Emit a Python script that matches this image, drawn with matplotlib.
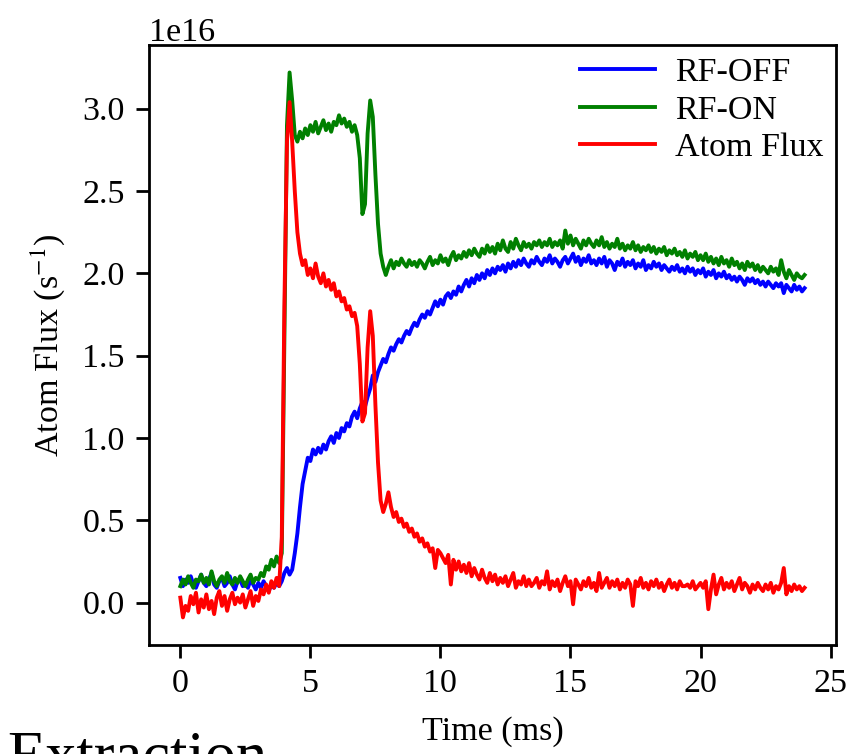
import numpy as np
import matplotlib
matplotlib.use('Agg')
import matplotlib.pyplot as plt

plt.rcParams['font.family'] = ['Liberation Serif', 'DejaVu Serif']
plt.rcParams['mathtext.fontset'] = 'stix'

# time axis, 0.1 ms sampling
time_ms = np.linspace(0, 24, 241)

# flux values in units of 1e16 s^-1
rf_off = [
    0.15, 0.10, 0.14, 0.12, 0.16, 0.11, 0.09, 0.13, 0.17, 0.12,
    0.10, 0.14, 0.18, 0.11, 0.09, 0.13, 0.15, 0.10, 0.12, 0.16,
    0.11, 0.08, 0.13, 0.14, 0.10, 0.12, 0.09, 0.14, 0.11, 0.08,
    0.12, 0.09, 0.13, 0.10, 0.07, 0.11, 0.09, 0.12, 0.10, 0.13,
    0.18, 0.21, 0.17, 0.20, 0.30, 0.42, 0.58, 0.72, 0.80, 0.88,
    0.86, 0.93, 0.90, 0.94, 0.91, 0.96, 0.93, 0.98, 1.01, 0.97,
    1.03, 1.00, 1.06, 1.04, 1.09, 1.07, 1.13, 1.16, 1.12, 1.18,
    1.22, 1.19, 1.25, 1.30, 1.38, 1.34, 1.40, 1.44, 1.48, 1.46,
    1.51, 1.55, 1.53, 1.57, 1.60, 1.58, 1.62, 1.65, 1.63, 1.67,
    1.70, 1.68, 1.72, 1.75, 1.73, 1.77, 1.75, 1.79, 1.83, 1.80,
    1.84, 1.81, 1.86, 1.88, 1.85, 1.89, 1.87, 1.92, 1.89, 1.93,
    1.96, 1.92, 1.97, 1.94, 1.99, 1.96, 2.00, 1.97, 2.02, 1.99,
    2.03, 2.00, 2.04, 2.02, 2.05, 2.01, 2.06, 2.03, 2.07, 2.04,
    2.08, 2.05, 2.09, 2.06, 2.04, 2.08, 2.06, 2.10, 2.07, 2.05,
    2.09, 2.07, 2.11, 2.06, 2.09, 2.07, 2.04, 2.08, 2.10, 2.06,
    2.09, 2.12, 2.07, 2.10, 2.05, 2.09, 2.07, 2.11, 2.06, 2.08,
    2.05, 2.09, 2.06, 2.10, 2.04, 2.08, 2.06, 2.02, 2.07, 2.05,
    2.09, 2.04, 2.07, 2.05, 2.08, 2.03, 2.06, 2.04, 2.08, 2.02,
    2.05, 2.03, 2.07, 2.04, 2.06, 2.02, 2.05, 2.03, 2.01, 2.04,
    2.02, 2.05, 2.01, 2.03, 2.00, 2.04, 2.01, 2.03, 1.99, 2.02,
    2.00, 2.03, 1.98, 2.01, 1.99, 2.02, 1.97, 2.00, 1.98, 2.01,
    1.97, 1.99, 1.96, 1.98, 1.95, 1.98, 1.96, 1.93, 1.97, 1.95,
    1.97, 1.94, 1.96, 1.93, 1.95, 1.92, 1.95, 1.93, 1.91, 1.94,
    1.92, 1.94, 1.88, 1.93, 1.91, 1.89, 1.93, 1.90, 1.92, 1.89,
    1.91,
]

rf_on = [
    0.10, 0.14, 0.11, 0.16, 0.12, 0.09, 0.14, 0.13, 0.17, 0.12,
    0.15, 0.11, 0.19, 0.13, 0.10, 0.14, 0.16, 0.12, 0.18, 0.13,
    0.11, 0.15, 0.12, 0.16, 0.13, 0.10, 0.14, 0.17, 0.12, 0.15,
    0.14, 0.18, 0.16, 0.22, 0.20, 0.26, 0.22, 0.28, 0.24, 0.30,
    1.60, 2.90, 3.22, 3.05, 2.84, 2.80, 2.86, 2.82, 2.88, 2.84,
    2.90, 2.86, 2.92, 2.85, 2.89, 2.93, 2.87, 2.91, 2.86, 2.92,
    2.90, 2.96, 2.91, 2.94, 2.89, 2.92, 2.86, 2.90, 2.84, 2.70,
    2.36, 2.42, 2.85, 3.05, 2.95, 2.60, 2.30, 2.12, 2.04, 1.99,
    2.04, 2.08, 2.03, 2.07, 2.05, 2.09, 2.06, 2.04, 2.08, 2.05,
    2.07, 2.04, 2.08, 2.06, 2.03, 2.07, 2.10, 2.05, 2.08, 2.06,
    2.11, 2.07, 2.09, 2.05, 2.10, 2.13, 2.08, 2.11, 2.09, 2.13,
    2.10, 2.14, 2.11, 2.15, 2.12, 2.10, 2.15, 2.12, 2.17, 2.13,
    2.16, 2.12, 2.18, 2.14, 2.20, 2.15, 2.13, 2.19, 2.15, 2.21,
    2.17, 2.14, 2.19, 2.16, 2.18, 2.15, 2.19, 2.17, 2.20, 2.16,
    2.19, 2.17, 2.21, 2.16, 2.19, 2.17, 2.20, 2.15, 2.26, 2.18,
    2.23, 2.17, 2.21, 2.18, 2.15, 2.20, 2.17, 2.21, 2.18, 2.16,
    2.20, 2.17, 2.22, 2.16, 2.19, 2.15, 2.18, 2.16, 2.21, 2.15,
    2.18, 2.14, 2.17, 2.15, 2.19, 2.14, 2.17, 2.13, 2.16, 2.14,
    2.17, 2.13, 2.16, 2.12, 2.15, 2.13, 2.16, 2.11, 2.14, 2.12,
    2.15, 2.11, 2.13, 2.10, 2.14, 2.09, 2.12, 2.10, 2.13, 2.08,
    2.11, 2.08, 2.12, 2.07, 2.10, 2.06, 2.09, 2.05, 2.10, 2.06,
    2.08, 2.04, 2.09, 2.05, 2.07, 2.03, 2.06, 2.02, 2.07, 2.04,
    2.06, 2.02, 2.05, 2.01, 2.04, 2.02, 2.00, 2.04, 2.01, 2.03,
    1.99, 2.08, 2.01, 1.97, 2.02, 1.99, 1.96, 2.00, 1.98, 1.97,
    1.99,
]

atom_flux = [
    0.03, -0.09, -0.02, -0.05, 0.04, -0.01, 0.06, -0.06, 0.02, -0.03,
    0.05, -0.04, 0.01, -0.07, 0.03, 0.07, -0.02, 0.04, -0.05, 0.02,
    0.06, -0.01, 0.03, 0.00, 0.05, -0.03, 0.02, 0.07, -0.02, 0.04,
    0.01, 0.08, 0.05, 0.11, 0.06, 0.13, 0.09, 0.15, 0.10, 0.40,
    1.80, 2.80, 3.04, 2.80, 2.50, 2.25, 2.12, 2.05, 2.08, 1.99,
    2.03, 1.97, 2.06, 1.98, 1.94, 2.00, 1.92, 1.96, 1.90, 1.94,
    1.86, 1.89, 1.83, 1.85, 1.78, 1.80, 1.74, 1.76, 1.68, 1.45,
    1.10, 1.15, 1.55, 1.77, 1.62, 1.20, 0.85, 0.62, 0.55, 0.60,
    0.67, 0.58, 0.52, 0.55, 0.49, 0.51, 0.46, 0.48, 0.43, 0.45,
    0.40, 0.42, 0.37, 0.39, 0.34, 0.36, 0.31, 0.33, 0.21, 0.32,
    0.30, 0.27, 0.24, 0.29, 0.11, 0.26, 0.20, 0.25, 0.19, 0.23,
    0.18, 0.24, 0.16, 0.21, 0.17, 0.14, 0.20, 0.15, 0.12, 0.18,
    0.13, 0.17, 0.11, 0.15, 0.12, 0.16, 0.10, 0.14, 0.18, 0.09,
    0.13, 0.11, 0.16, 0.10, 0.14, 0.10, 0.12, 0.15, 0.09, 0.13,
    0.11, 0.19, 0.08, 0.13, 0.10, 0.14, 0.07, 0.12, 0.16, 0.10,
    0.13, -0.01, 0.14, 0.11, 0.08, 0.13, 0.10, 0.15, 0.09, 0.12,
    0.07, 0.18, 0.09, 0.12, 0.15, 0.09, 0.13, 0.10, 0.14, 0.08,
    0.12, 0.09, 0.14, 0.11, -0.02, 0.13, 0.10, 0.15, 0.09, 0.12,
    0.08, 0.13, 0.10, 0.14, 0.09, 0.12, 0.07, 0.11, 0.14, 0.09,
    0.12, 0.08, 0.13, 0.10, 0.10, 0.11, 0.09, 0.13, 0.08, 0.10,
    0.12, 0.09, 0.13, -0.04, 0.08, 0.17, 0.05, 0.11, 0.15, 0.08,
    0.12, 0.09, 0.13, 0.07, 0.11, 0.15, 0.08, 0.12, 0.10, 0.06,
    0.11, 0.08, 0.12, 0.09, 0.07, 0.11, 0.08, 0.12, 0.06, 0.10,
    0.08, 0.12, 0.21, 0.05, 0.10, 0.07, 0.11, 0.08, 0.10, 0.07,
    0.09,
]

scale = 1e16

fig = plt.figure(figsize=(8.67, 7.54), dpi=100)
ax = fig.add_axes([0.172, 0.145, 0.792, 0.795])

ax.plot(time_ms, np.array(rf_off) * scale, color='b', lw=2.8, label='RF-OFF')
ax.plot(time_ms, np.array(rf_on) * scale, color='g', lw=2.8, label='RF-ON')
ax.plot(time_ms, np.array(atom_flux) * scale, color='r', lw=2.8, label='Atom Flux')

ax.set_xlabel('Time (ms)', fontsize=24.5, labelpad=12)
ax.set_ylabel('Atom Flux (s$^{-1}$)', fontsize=24.5, labelpad=10)
ax.tick_params(labelsize=24.5, length=9.5, width=2, pad=8)
for sp in ax.spines.values():
    sp.set_linewidth(2)
ax.yaxis.get_offset_text().set_fontsize(24.5)
ax.set_xticks([0, 5, 10, 15, 20, 25])

ax.legend(loc='upper right', frameon=False, fontsize=24.5, handlelength=2.2,
          handletextpad=0.6, labelspacing=0.2, borderaxespad=0.15,
          borderpad=0.2)

# part of a neighbouring panel title, cut by the figure edge
fig.text(0.008, -0.027, 'Extraction', fontsize=45, va='baseline')

fig.savefig('out.png', dpi=100)
